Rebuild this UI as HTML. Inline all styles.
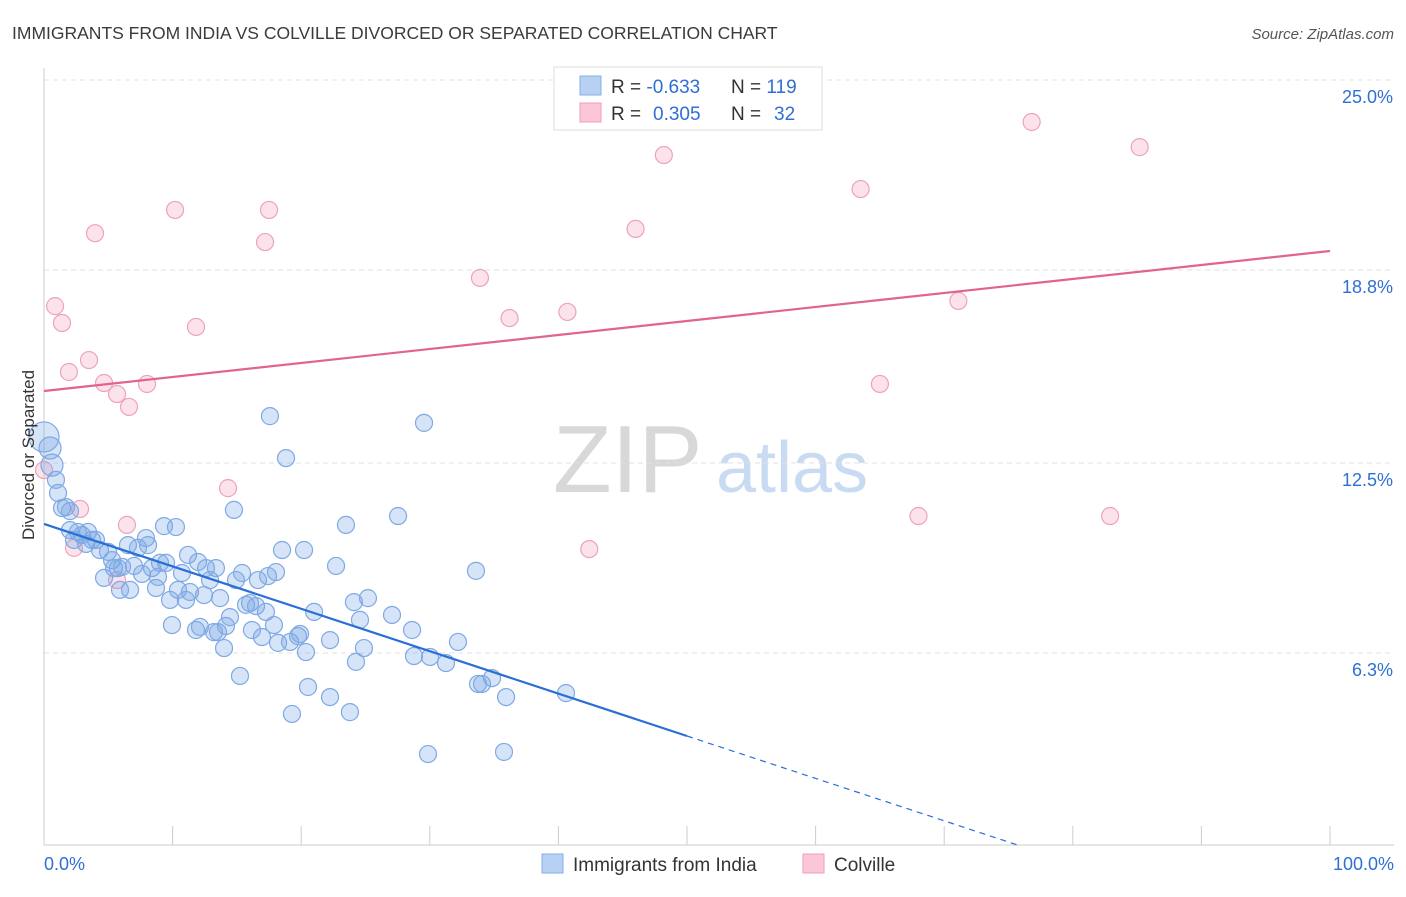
<!DOCTYPE html>
<html><head><meta charset="utf-8"><style>
body{margin:0;background:#fff;font-family:"Liberation Sans",sans-serif;}
svg text{font-family:"Liberation Sans",sans-serif;}
</style></head><body>
<svg id="chart" width="1406" height="892">
<text x="12" y="39" font-size="17.5" fill="#3b3b3b">IMMIGRANTS FROM INDIA VS COLVILLE DIVORCED OR SEPARATED CORRELATION CHART</text>
<text x="1394" y="39" font-size="15" fill="#555" font-style="italic" text-anchor="end">Source: ZipAtlas.com</text>
<g>
<text x="553" y="492" font-size="96" fill="#d8d8d8" font-family="Liberation Serif, serif">ZIP</text>
<text x="716" y="492" font-size="72" fill="#c9dbf2">atlas</text>
</g>
<g id="grid"></g>
<g id="axes"></g>
<g id="pts"></g>
<g id="lines"></g>
<text x="34" y="455" font-size="17" fill="#333" text-anchor="middle" transform="rotate(-90 34 455)">Divorced or Separated</text>
<g>
<rect x="554" y="67" width="268" height="63" fill="#fff" stroke="#ddd"/>
<rect x="580" y="76" width="21" height="19" fill="#b7d1f4" stroke="#86aee6"/>
<rect x="580" y="103" width="21" height="19" fill="#fbc7d7" stroke="#ef9fb9"/>
<text x="611" y="93" font-size="19" fill="#333">R = <tspan fill="#2f6fd4">-0.633</tspan></text>
<text x="731" y="93" font-size="19" fill="#333">N = <tspan fill="#2f6fd4">119</tspan></text>
<text x="611" y="120" font-size="19" fill="#333">R = <tspan fill="#2f6fd4" x="653">0.305</tspan></text>
<text x="731" y="120" font-size="19" fill="#333">N = <tspan fill="#2f6fd4" x="774">32</tspan></text>
</g>
<g>
<rect x="542" y="854" width="21" height="19" fill="#b7d1f4" stroke="#86aee6"/>
<text x="573" y="871" font-size="19" fill="#333">Immigrants from India</text>
<rect x="803" y="854" width="21" height="19" fill="#fbc7d7" stroke="#ef9fb9"/>
<text x="834" y="871" font-size="19" fill="#333">Colville</text>
</g>
</svg>
<script>
const yTicks=[6.3,12.5,18.8,25.0];
const yTickLabels=["6.3%","12.5%","18.8%","25.0%"];
const xEndLabels=["0.0%","100.0%"];
const indiaX=[0,0.47,0.62,0.93,1.09,1.4,1.71,2.02,2.02,2.33,2.64,2.95,3.27,3.42,3.73,4.04,4.35,4.67,4.98,5.29,5.44,5.75,5.91,6.07,6.53,6.69,7.0,7.31,7.62,7.93,8.09,8.4,8.71,8.86,9.02,9.33,9.49,9.8,9.95,10.26,10.42,10.73,11.04,11.2,11.35,11.82,11.98,12.13,12.44,12.6,12.91,13.22,13.37,13.53,13.69,14.0,14.15,14.46,14.77,14.93,15.24,15.4,15.71,16.02,16.17,16.49,16.64,16.95,17.26,17.42,17.57,17.88,18.04,18.2,18.51,18.82,19.13,19.28,19.75,19.91,20.22,20.37,20.53,21.0,22.24,22.24,22.71,23.48,23.79,24.1,24.26,24.57,24.88,25.19,27.06,27.53,28.62,28.77,29.55,29.86,30.02,31.26,32.19,33.59,33.75,34.06,34.84,35.77,35.93,40.59];
const indiaY=[13.35,12.99,12.43,11.95,11.52,11.03,11.06,10.93,10.31,9.99,10.25,10.15,9.86,10.25,9.99,9.99,9.66,8.75,9.6,9.33,9.07,9.07,8.36,9.11,9.82,8.36,9.14,9.73,8.88,10.05,9.82,9.07,8.42,8.78,9.24,10.44,9.24,8.03,7.21,10.41,8.36,8.91,8.03,9.5,8.29,7.05,9.27,7.15,8.19,9.07,8.68,6.98,9.07,6.98,8.09,6.46,7.18,7.47,10.97,8.68,5.55,8.91,7.87,7.93,7.05,7.83,8.68,6.82,7.64,8.81,14.03,7.21,8.94,6.63,9.66,12.66,6.66,4.31,6.85,6.92,9.66,6.33,5.19,7.64,6.72,4.86,9.14,10.48,4.37,7.96,6.01,7.38,6.46,8.09,7.54,10.77,7.05,6.2,13.81,3.0,6.17,5.97,6.66,8.98,5.29,5.29,5.48,3.07,4.86,4.99];
const colvX=[0,0.86,1.4,1.94,3.5,3.97,4.67,5.68,6.61,8.01,10.19,11.82,14.31,17.19,17.5,33.9,36.2,40.7,46.0,48.2,63.5,65.0,68.0,71.1,76.8,82.9,85.2,6.45,2.33,2.8,5.68,42.4];
const colvY=[12.27,17.62,17.07,15.47,15.86,20.0,15.11,14.75,14.33,15.08,20.76,16.94,11.68,19.71,20.76,18.54,17.23,17.43,20.14,22.55,21.44,15.08,10.77,17.79,23.63,10.77,22.81,10.48,9.73,11.0,8.68,9.69];
const indiaTrend=[10.51,-0.1384];
const colvTrend=[14.85,0.0457];
const X=v=>44+v*12.86, Y=v=>846-v*30.64;
const NS="http://www.w3.org/2000/svg";
function mk(tag,attrs,parent){const e=document.createElementNS(NS,tag);for(const k in attrs)e.setAttribute(k,attrs[k]);parent.appendChild(e);return e;}
const grid=document.getElementById('grid'),axes=document.getElementById('axes'),pts=document.getElementById('pts'),lines=document.getElementById('lines');
yTicks.forEach((t,i)=>{
 const yy=t===25?80:Y(t);
 const l=mk('line',{x1:44,x2:1394,y1:yy,y2:yy,stroke:'#e0e0e0','stroke-dasharray':'5,4'},grid);
 
 
 const tx=mk('text',{x:1393,y:yy+23,'font-size':18,fill:'#2f6fd4','text-anchor':'end'},axes);
 tx.textContent=yTickLabels[i];
 
 
});
const ax=mk('line',{x1:44,x2:1394,y1:845,y2:845,stroke:'#ccc'},axes);


const ay=mk('line',{x1:44,x2:44,y1:68,y2:845,stroke:'#ccc'},axes);


for(let i=0;i<=10;i++){
 const t=mk('line',{x1:X(i*10),x2:X(i*10),y1:826,y2:845,stroke:'#ccc'},axes);
 
 
}
[[0,'start',44],[100,'end',1394]].forEach((d,i)=>{
 const tx=mk('text',{x:d[2],y:870,'font-size':18,fill:'#2f6fd4','text-anchor':d[1]},axes);
 tx.textContent=xEndLabels[i];
 
 
});
colvX.forEach((x,i)=>{
 const c=mk('circle',{cx:X(x),cy:Y(colvY[i]),r:8.5,fill:'rgba(244,160,188,0.3)',stroke:'#eca3bc','stroke-width':1.2},pts);
 
 
});
indiaX.forEach((x,i)=>{
 const big=i<3?(i===0?15:11):8.5;
 const c=mk('circle',{cx:X(x),cy:Y(indiaY[i]),r:big,fill:'rgba(120,165,230,0.3)',stroke:'#7fa9e4','stroke-width':1.2},pts);
 
 
});
const f1=x=>indiaTrend[0]+indiaTrend[1]*x;
const x0=-indiaTrend[0]/indiaTrend[1];
const l1=mk('line',{x1:X(0),y1:Y(f1(0)),x2:X(50),y2:Y(f1(50)),stroke:'#2a6fd6','stroke-width':2.2},lines);


const l2=mk('line',{x1:X(50),y1:Y(f1(50)),x2:X(x0),y2:Y(0),stroke:'#2a6fd6','stroke-width':1.2,'stroke-dasharray':'6,5'},lines);


const f2=x=>colvTrend[0]+colvTrend[1]*x;
const l3=mk('line',{x1:X(0),y1:Y(f2(0)),x2:X(100),y2:Y(f2(100)),stroke:'#e0648d','stroke-width':2.2},lines);


</script>
</body></html>
